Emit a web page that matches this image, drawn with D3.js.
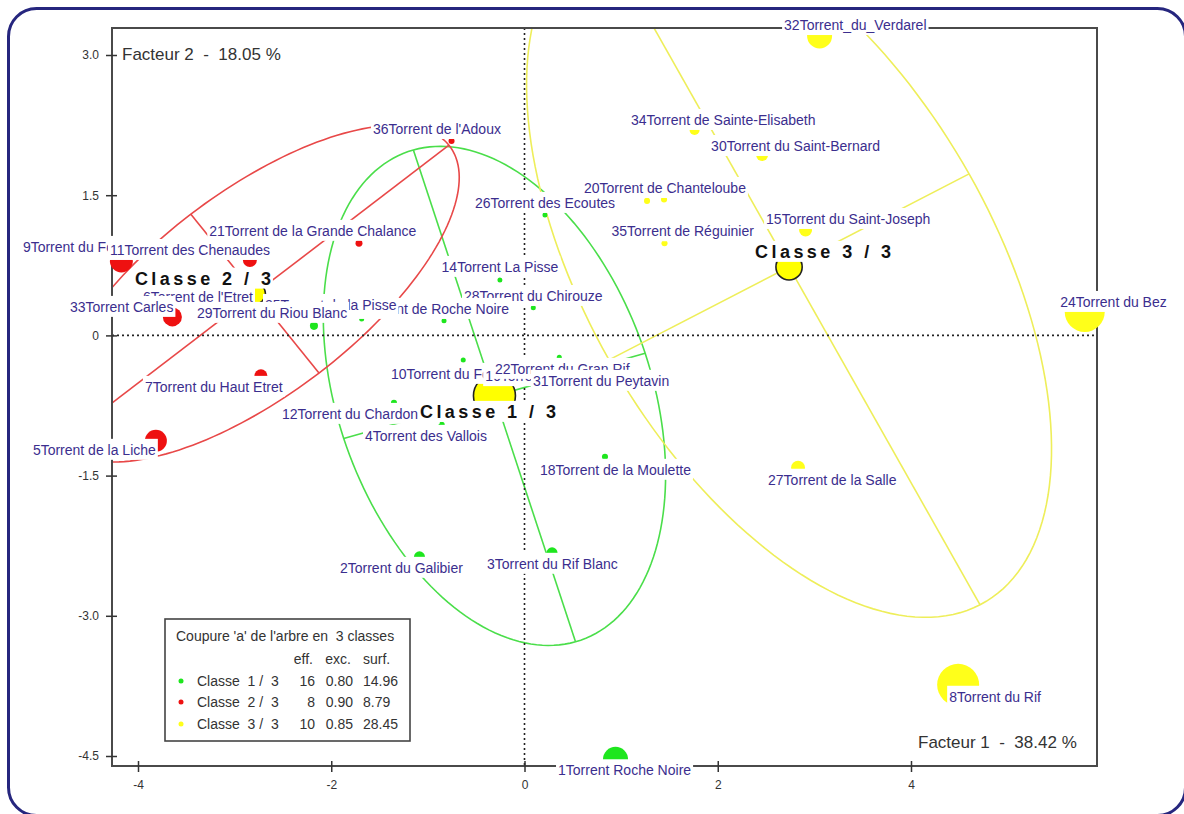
<!DOCTYPE html>
<html><head><meta charset="utf-8">
<script src="https://cdn.jsdelivr.net/npm/d3@7"></script>
<style>
html,body{margin:0;padding:0;background:#fff;}
svg{display:block;}
text{font-family:Arial,"Liberation Sans",sans-serif;}
</style></head><body>
<svg id="chart" width="1184" height="814"></svg>
<script>
// ---------------- DATA ----------------
const ids      = [1,2,3,4,5,6,7,8,9,10,11,12,13,14,15,16,17,18,20,21,22,24,25,26,27,28,29,30,31,32,33,34,35,36];
const names    = ["1Torrent Roche Noire","2Torrent du Galibier","3Torrent du Rif Blanc","4Torrent des Vallois",
  "5Torrent de la Liche","6Torrent de l'Etret","7Torrent du Haut Etret","8Torrent du Rif","9Torrent du Fournel",
  "10Torrent du Fontenil","11Torrent des Chenaudes","12Torrent du Chardonnet","13Torrent de Roche Noire",
  "14Torrent La Pisse","15Torrent du Saint-Joseph","16Torrent des Combes","17Torrent du Rabioux",
  "18Torrent de la Moulette","20Torrent de Chanteloube","21Torrent de la Grande Chalance","22Torrent du Gran Rif",
  "24Torrent du Bez","25Torrent de la Pisse","26Torrent des Ecoutes","27Torrent de la Salle","28Torrent du Chirouze",
  "29Torrent du Riou Blanc","30Torrent du Saint-Bernard","31Torrent du Peytavin","32Torrent_du_Verdarel",
  "33Torrent Carles","34Torrent de Sainte-Elisabeth","35Torrent de Réguinier","36Torrent de l'Adoux"];
const classOf  = [1,1,1,1,2,2,2,3,2,1,2,1,1,1,3,1,3,1,3,2,1,3,1,1,3,1,1,3,1,3,2,3,3,2];
const factor1  = [0.942,-1.087,0.285,-0.857,-3.815,-2.65,-2.728,4.488,-4.172,-0.634,-2.842,-1.351,-0.833,-0.254,
  2.909,-0.20,1.268,0.833,1.444,-1.713,0.360,5.798,-1.685,0.212,2.831,0.091,-2.179,2.459,0.80,3.054,-3.644,1.760,1.449,-0.755];
const factor2  = [-4.535,-2.369,-2.326,-0.957,-1.128,0.244,-0.433,-3.738,0.797,-0.262,0.807,-0.722,0.158,0.594,
  1.128,-0.50,1.439,-1.299,1.455,0.987,-0.233,0.251,0.176,1.289,-1.416,0.297,0.102,1.930,-0.50,3.203,0.198,2.198,0.986,2.080];
const contrib  = [4.25,0.82,0.82,0.25,3.29,0.25,1.15,12.0,3.6,0.17,1.33,0.25,0.17,0.17,
  1.15,0.25,0.25,0.25,0.25,0.33,0.17,10.88,0.17,0.17,1.33,0.17,0.44,0.98,0.25,4.25,2.46,0.68,0.25,0.25];

const classNames = ["Classe 1 / 3","Classe 2 / 3","Classe 3 / 3"];
const classEff   = [16, 8, 10];
const classExc   = ["0.80","0.90","0.85"];
const classSurf  = ["14.96","8.79","28.45"];
const classF1    = [-0.311, -2.79, 2.738];
const classF2    = [-0.647, 0.447, 0.733];
const ellMajor   = [[-0.839, 2.631], [2.008, 1.588], [1.977, -3.615]];
const ellMinor   = [[1.56, 0.455], [0.663, -0.850], [1.863, 0.995]];

const xTicks = [-4, -2, 0, 2, 4];
const yTicks = [3.0, 1.5, 0, -1.5, -3.0, -4.5];
const axisTitle1 = "Facteur 1  -  38.42 %";
const axisTitle2 = "Facteur 2  -  18.05 %";
const legendTitle = "Coupure 'a' de l'arbre en  3 classes";
const legendHeader = ["eff.", "exc.", "surf."];

// ---------------- LAYOUT ----------------
const frame = {left:112, right:1097, top:28, bottom:766};
const classColor = {1:"#1ee61e", 2:"#ee1111", 3:"#ffff1a"};
const ellColor   = {1:"#4ade4a", 2:"#e84848", 3:"#eeee5a"};
const labelColor = "#3b2e8e";
// label offsets (px) relative to the point: [dx, dy, anchor]
const labelPlace = {1:[-57.5,11],2:[-79.5,11],3:[-65,11],4:[-76.7,11],5:[-123,9],6:[-125.5,-15.7],7:[-116,11],
  8:[-9,12],9:[-98.5,-14],10:[-72.3,14],11:[-140,-10],12:[-112,11],13:[65,-11.7,"end"],14:[0,-13,"middle"],
  15:[-39.5,-11],16:[-20,-6],17:[-63,-13],18:[-65,13],20:[-80,-11.5],21:[-149.7,-12.3],22:[-64.3,11.7],
  24:[-24.6,-10],25:[-96.7,-14],26:[-70,-12],27:[-30,12],28:[0,-11.7,"middle"],29:[-117,-13],30:[-51,-9],
  31:[-68.8,-1.3],32:[-35.5,-11],33:[-102.5,-10],34:[-63.5,-10],35:[-53,-12],36:[-78.6,-12]};
const labelOrder = [9,11,21,36,26,34,30,17,20,35,15,32,24,14,28,13,25,6,29,33,7,5,10,16,22,31,12,4,18,27,2,3,1,8];
const classLabelPlace = [[-74.5,16],[-120,-15],[-34,-15]];

const svg = d3.select("#chart");
svg.append("rect").attr("width",1184).attr("height",814).attr("fill","#fff");

const x = d3.scaleLinear().domain([-4,4]).range([138,911]);
const y = d3.scaleLinear().domain([3,-4.5]).range([55,756]);
const rScale = d3.scaleSqrt().domain([0,12]).range([0,21]);
const cScale = d3.scaleLinear().domain([0,16]).range([0,21]);

const defs = svg.append("defs");
defs.append("clipPath").attr("id","plotClip").append("rect")
  .attr("x",frame.left).attr("y",frame.top).attr("width",frame.right-frame.left).attr("height",frame.bottom-frame.top);
defs.append("clipPath").attr("id","labelClip").append("rect")
  .attr("x",0).attr("y",0).attr("width",1169).attr("height",814);

// ---------------- ELLIPSES ----------------
const ellG = svg.append("g").attr("clip-path","url(#plotClip)");
const line = d3.line().x(d=>x(d[0])).y(d=>y(d[1]));
classNames.forEach((cn,k)=>{
  const cx = classF1[k], cy = classF2[k], A = ellMajor[k], B = ellMinor[k];
  const pts = d3.range(0, 361, 2).map(a=>{
    const t = a*Math.PI/180;
    return [cx + Math.cos(t)*A[0] + Math.sin(t)*B[0], cy + Math.cos(t)*A[1] + Math.sin(t)*B[1]];
  });
  const col = ellColor[k+1];
  ellG.append("path").attr("d",line(pts)).attr("fill","none").attr("stroke",col).attr("stroke-width",1.6);
  ellG.append("path").attr("d",line([[cx-A[0],cy-A[1]],[cx+A[0],cy+A[1]]])).attr("fill","none").attr("stroke",col).attr("stroke-width",1.6);
  ellG.append("path").attr("d",line([[cx-B[0],cy-B[1]],[cx+B[0],cy+B[1]]])).attr("fill","none").attr("stroke",col).attr("stroke-width",1.6);
});

// ---------------- ZERO LINES ----------------
svg.append("line").attr("x1",x(0)).attr("x2",x(0)).attr("y1",frame.top).attr("y2",frame.bottom)
  .attr("stroke","#222").attr("stroke-width",1.6).attr("stroke-dasharray","2,3");
svg.append("line").attr("x1",frame.left).attr("x2",frame.right).attr("y1",y(0)).attr("y2",y(0))
  .attr("stroke","#222").attr("stroke-width",1.6).attr("stroke-dasharray","2,3");

// ---------------- FRAME & AXES ----------------
svg.append("rect").attr("x",frame.left).attr("y",frame.top)
  .attr("width",frame.right-frame.left).attr("height",frame.bottom-frame.top)
  .attr("fill","none").attr("stroke","#4a4a4a").attr("stroke-width",2);

const xAxis = svg.append("g").attr("transform",`translate(0,${frame.bottom})`)
  .call(d3.axisBottom(x).tickValues(xTicks).tickFormat(d=>String(d)).tickSize(5).tickPadding(3));
xAxis.select(".domain").remove();
xAxis.selectAll(".tick line").attr("y1",-5).attr("y2",6).attr("stroke","#333").attr("stroke-width",1.5);
xAxis.selectAll(".tick text").attr("y",14).attr("font-size",12).attr("fill","#333").attr("font-family","Arial, sans-serif");

const yAxis = svg.append("g").attr("transform",`translate(${frame.left},0)`)
  .call(d3.axisLeft(y).tickValues(yTicks).tickFormat(d=> d===0 ? "0" : d.toFixed(1)).tickSize(5).tickPadding(3));
yAxis.select(".domain").remove();
yAxis.selectAll(".tick line").attr("x1",-6).attr("x2",5).attr("stroke","#333").attr("stroke-width",1.5);
yAxis.selectAll(".tick text").attr("x",-13).attr("font-size",12).attr("fill","#333").attr("font-family","Arial, sans-serif");

// ---------------- MARKERS ----------------
const mk = svg.append("g");
ids.forEach((id,i)=>{
  mk.append("circle").attr("cx",x(factor1[i])).attr("cy",y(factor2[i]))
    .attr("r",rScale(contrib[i])).attr("fill",classColor[classOf[i]]);
});
classNames.forEach((cn,k)=>{
  mk.append("circle").attr("cx",x(classF1[k])).attr("cy",y(classF2[k])).attr("r",cScale(classEff[k]))
    .attr("fill","#ffff00").attr("stroke","#222").attr("stroke-width",1.6);
});

// ---------------- LABELS ----------------
const lab = svg.append("g").attr("clip-path","url(#labelClip)");
labelOrder.forEach(id=>{
  const i = ids.indexOf(id);
  const p = labelPlace[id];
  const anchor = p[2] || "start";
  const px = x(factor1[i]) + p[0], py = y(factor2[i]) + p[1];
  const g = lab.append("g");
  const r = g.append("rect").attr("fill","#fff");
  const t = g.append("text").attr("x",px).attr("y",py).attr("dy","0.35em").attr("text-anchor",anchor)
    .attr("font-size",14).attr("fill",labelColor).text(names[i]);
  const w = t.node().getComputedTextLength();
  const left = anchor==="end" ? px-w : anchor==="middle" ? px-w/2 : px;
  r.attr("x",left-2).attr("y",py-11).attr("width",w+4).attr("height",21);
});
classNames.forEach((cn,k)=>{
  const px = x(classF1[k]) + classLabelPlace[k][0], py = y(classF2[k]) + classLabelPlace[k][1];
  const g = lab.append("g");
  g.append("rect").attr("x",px-2).attr("y",py-11).attr("width",140).attr("height",21).attr("fill","#fff");
  g.append("text").attr("x",px).attr("y",py).attr("dy","0.36em")
    .attr("font-family","'DejaVu Serif', 'Liberation Serif', serif").attr("font-weight","bold").attr("font-size",18)
    .attr("textLength",136).attr("lengthAdjust","spacing").attr("fill","#111").text(cn);
});

// ---------------- AXIS TITLES ----------------
svg.append("text").attr("x",122).attr("y",54).attr("dy","0.35em").attr("font-size",17).attr("fill","#333")
  .style("white-space","pre").text(axisTitle2);
svg.append("text").attr("x",918).attr("y",742).attr("dy","0.35em").attr("font-size",17).attr("fill","#333")
  .style("white-space","pre").text(axisTitle1);

// ---------------- LEGEND ----------------
const lg = svg.append("g");
lg.append("rect").attr("x",165).attr("y",619).attr("width",245).attr("height",122)
  .attr("fill","#fff").attr("stroke","#444").attr("stroke-width",1.6);
const lt = (tx,ty,s,anchor)=>lg.append("text").attr("x",tx).attr("y",ty).attr("dy","0.35em")
  .attr("text-anchor",anchor||"start").attr("font-size",14).attr("fill","#333").style("white-space","pre").text(s);
lt(176,636,legendTitle);
lt(313,659,legendHeader[0],"end");
lt(351,659,legendHeader[1],"end");
lt(363,659,legendHeader[2]);
const rowsY = [681,702,724];
classNames.forEach((cn,k)=>{
  lg.append("circle").attr("cx",181).attr("cy",rowsY[k]).attr("r",2.5).attr("fill",classColor[k+1]);
  lt(197,rowsY[k],cn.replace(" ","  ").replace(" / "," /  "));
  lt(315,rowsY[k],String(classEff[k]),"end");
  lt(353,rowsY[k],classExc[k],"end");
  lt(363,rowsY[k],classSurf[k]);
});

// ---------------- OUTER BORDER ----------------
svg.append("rect").attr("x",8.5).attr("y",8.5).attr("width",1177).attr("height",807).attr("rx",28)
  .attr("fill","none").attr("stroke","#26267e").attr("stroke-width",3);
</script>
</body></html>
